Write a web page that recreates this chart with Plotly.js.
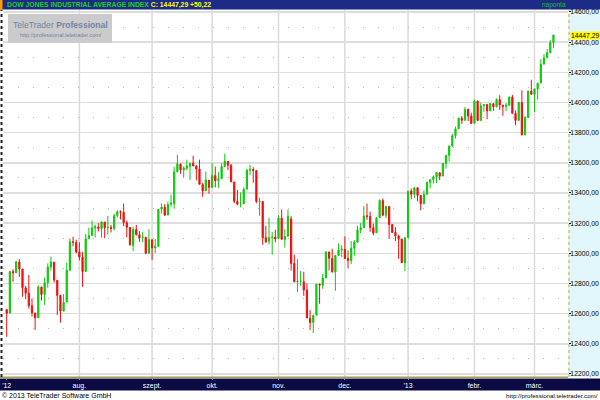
<!DOCTYPE html>
<html><head><meta charset="utf-8">
<script src="https://cdn.plot.ly/plotly-3.0.1.min.js"></script>
<style>html,body{margin:0;padding:0;background:#fff;}#chart{width:600px;height:400px;}</style>
</head><body><div id="chart"></div>
<script>
const dates = [
"2012-06-28","2012-06-29",
"2012-07-02","2012-07-03","2012-07-05","2012-07-06","2012-07-09","2012-07-10","2012-07-11","2012-07-12","2012-07-13","2012-07-16","2012-07-17","2012-07-18","2012-07-19","2012-07-20","2012-07-23","2012-07-24","2012-07-25","2012-07-26","2012-07-27","2012-07-30","2012-07-31",
"2012-08-01","2012-08-02","2012-08-03","2012-08-06","2012-08-07","2012-08-08","2012-08-09","2012-08-10","2012-08-13","2012-08-14","2012-08-15","2012-08-16","2012-08-17","2012-08-20","2012-08-21","2012-08-22","2012-08-23","2012-08-24","2012-08-27","2012-08-28","2012-08-29","2012-08-30","2012-08-31",
"2012-09-04","2012-09-05","2012-09-06","2012-09-07","2012-09-10","2012-09-11","2012-09-12","2012-09-13","2012-09-14","2012-09-17","2012-09-18","2012-09-19","2012-09-20","2012-09-21","2012-09-24","2012-09-25","2012-09-26","2012-09-27","2012-09-28",
"2012-10-01","2012-10-02","2012-10-03","2012-10-04","2012-10-05","2012-10-08","2012-10-09","2012-10-10","2012-10-11","2012-10-12","2012-10-15","2012-10-16","2012-10-17","2012-10-18","2012-10-19","2012-10-22","2012-10-23","2012-10-24","2012-10-25","2012-10-26","2012-10-31",
"2012-11-01","2012-11-02","2012-11-05","2012-11-06","2012-11-07","2012-11-08","2012-11-09","2012-11-12","2012-11-13","2012-11-14","2012-11-15","2012-11-16","2012-11-19","2012-11-20","2012-11-21","2012-11-23","2012-11-26","2012-11-27","2012-11-28","2012-11-29","2012-11-30",
"2012-12-03","2012-12-04","2012-12-05","2012-12-06","2012-12-07","2012-12-10","2012-12-11","2012-12-12","2012-12-13","2012-12-14","2012-12-17","2012-12-18","2012-12-19","2012-12-20","2012-12-21","2012-12-24","2012-12-26","2012-12-27","2012-12-28","2012-12-31",
"2013-01-02","2013-01-03","2013-01-04","2013-01-07","2013-01-08","2013-01-09","2013-01-10","2013-01-11","2013-01-14","2013-01-15","2013-01-16","2013-01-17","2013-01-18","2013-01-22","2013-01-23","2013-01-24","2013-01-25","2013-01-28","2013-01-29","2013-01-30","2013-01-31",
"2013-02-01","2013-02-04","2013-02-05","2013-02-06","2013-02-07","2013-02-08","2013-02-11","2013-02-12","2013-02-13","2013-02-14","2013-02-15","2013-02-19","2013-02-20","2013-02-21","2013-02-22","2013-02-25","2013-02-26","2013-02-27","2013-02-28",
"2013-03-01","2013-03-04","2013-03-05","2013-03-06","2013-03-07","2013-03-08","2013-03-11"
];
const openV = [
12627,12605,
12880,12871,12942,12896,12770,12736,12653,12604,12573,12777,12727,12805,12909,12942,12821,12721,12617,12677,12888,13076,13072,
13009,12975,12879,13096,13118,13167,13175,13164,13207,13170,13172,13165,13250,13275,13272,13203,13172,13053,13158,13123,13103,13107,13002,
13090,13036,13046,13292,13306,13254,13325,13329,13540,13591,13552,13564,13575,13598,13578,13559,13456,13414,13485,
13437,13515,13482,13495,13575,13610,13583,13473,13345,13326,13329,13425,13550,13556,13548,13343,13344,13104,13079,13103,13108,
13099,13233,13092,13113,13228,12933,12811,12815,12811,12757,12570,12542,12590,12796,12787,12837,13009,12966,12876,12985,13022,
13027,12966,12952,13034,13074,13155,13170,13249,13245,13170,13136,13236,13350,13252,13311,13191,13139,13115,13095,12938,
13104,13413,13391,13435,13383,13328,13391,13471,13488,13506,13534,13512,13596,13649,13712,13780,13825,13896,13882,13955,13910,
13862,14010,13880,13979,13987,13944,13992,13971,14019,13982,13973,13981,14036,13927,13881,14000,13784,13900,14075,
14054,14090,14129,14254,14297,14329,14397
];
const highV = [
12630,12880,
12894,12946,12962,12896,12784,12856,12700,12606,12788,12777,12839,12933,12979,12942,12821,12725,12730,12938,13097,13110,13090,
13073,13010,13128,13170,13217,13190,13200,13209,13207,13248,13189,13260,13286,13285,13330,13217,13172,13177,13188,13148,13140,13107,13159,
13091,13095,13293,13331,13326,13342,13390,13573,13653,13596,13576,13621,13598,13647,13586,13621,13467,13542,13486,
13598,13575,13538,13598,13661,13610,13592,13473,13420,13404,13438,13556,13588,13571,13549,13368,13344,13182,13236,13141,13156,
13252,13290,13160,13290,13246,12990,12961,12882,12878,12801,12623,12593,12796,12799,12864,13010,13009,13030,12990,13066,13054,
13112,13019,13082,13087,13184,13200,13313,13330,13276,13197,13239,13358,13364,13312,13311,13191,13173,13123,13095,13104,
13412,13430,13436,13435,13383,13417,13472,13490,13516,13535,13534,13597,13650,13712,13792,13839,13900,13910,13969,13958,13932,
14019,14011,13999,13987,13987,13993,13992,14027,14048,13982,13996,14039,14050,13947,14001,14081,13910,14078,14150,
14090,14128,14287,14320,14354,14413,14448
];
const lowV = [
12446,12600,
12811,12870,12843,12712,12696,12634,12581,12492,12573,12687,12658,12772,12885,12806,12592,12540,12617,12677,12886,13046,13000,
12953,12777,12879,13096,13118,13105,13145,13103,13100,13124,13138,13152,13240,13224,13180,13106,13050,13014,13117,13076,13073,12994,12995,
12956,13001,13046,13264,13247,13254,13309,13296,13540,13527,13503,13550,13486,13579,13483,13456,13375,13414,13395,
13437,13437,13434,13495,13575,13552,13472,13333,13318,13305,13326,13425,13520,13468,13332,13249,13056,13068,13060,12991,13073,
13099,13087,13038,13113,12885,12811,12743,12785,12718,12571,12492,12471,12590,12665,12764,12837,12886,12872,12751,12985,12976,
12963,12902,12928,12985,13074,13133,13170,13222,13143,13119,13136,13236,13250,13233,13095,13135,13081,12964,12937,12883,
13104,13358,13366,13345,13285,13328,13391,13431,13462,13465,13485,13512,13562,13608,13706,13761,13825,13858,13879,13877,13860,
13862,13880,13880,13938,13889,13944,13945,13969,13951,13912,13943,13981,13927,13849,13881,13784,13784,13900,14054,
13937,14020,14129,14254,14297,14329,14361
];
const closeV = [
12602,12880,
12871,12944,12897,12772,12736,12653,12605,12573,12777,12727,12806,12909,12943,12823,12721,12617,12676,12888,13076,13073,13009,
12976,12879,13096,13118,13169,13176,13165,13208,13169,13172,13165,13250,13275,13272,13204,13173,13057,13158,13125,13103,13107,13001,13091,
13036,13047,13292,13307,13254,13323,13333,13540,13593,13553,13565,13578,13597,13579,13559,13458,13414,13486,13437,
13515,13482,13495,13575,13610,13584,13474,13345,13326,13329,13424,13552,13557,13549,13344,13346,13103,13077,13104,13107,13096,
13233,13093,13112,13246,12933,12811,12815,12815,12756,12571,12542,12588,12796,12789,12837,13010,12967,12878,12985,13022,13026,
12966,12952,13034,13074,13155,13170,13248,13245,13171,13135,13235,13351,13252,13312,13191,13139,13115,13096,12938,13104,
13412,13391,13435,13384,13329,13391,13471,13488,13507,13535,13511,13596,13650,13712,13779,13825,13896,13882,13954,13910,13861,
14010,13880,13979,13987,13944,13993,13971,14019,13983,13973,13982,14036,13928,13881,14001,13784,13900,14075,14054,
14090,14128,14254,14296,14329,14397,14447.29
];
const monthTickDates = ["2012-06-28","2012-08-01","2012-09-04","2012-10-01","2012-11-01","2012-12-03","2013-01-02","2013-02-01","2013-03-01"];
const monthTickLabels = ["'12","aug.","szept.","okt.","nov.","dec.","'13","febr.","márc."];
const gridMonthDates = ["2012-08-01","2012-09-04","2012-10-01","2012-11-01","2012-12-03","2013-01-02","2013-02-01","2013-03-01"];
const lastClose = 14447.29;
const lastChange = 50.22;

const FONT = "Liberation Sans, Arial, sans-serif";
const fmt = v => v.toFixed(2).replace('.', ',');

const trace = {
  type: 'candlestick', x: dates, open: openV, high: highV, low: lowV, close: closeV,
  increasing: {line: {color: '#10c810', width: 1}, fillcolor: '#00d400'},
  decreasing: {line: {color: '#f01010', width: 1}, fillcolor: '#ff0000'},
  whiskerwidth: 0, hoverinfo: 'skip', showlegend: false
};

const P = (X) => (X - 3) / 565;
const Q = (Y) => (377 - Y) / 367;

const shapes = [
  {type:'rect', xref:'paper', yref:'paper', x0:P(568), x1:P(600), y0:0, y1:1, fillcolor:'#e2f7fc', line:{width:0}, layer:'below'},
  {type:'rect', xref:'paper', yref:'paper', x0:P(0), x1:P(600), y0:Q(9.5), y1:Q(0), fillcolor:'#1c2b86', line:{width:0}, layer:'below'},
  {type:'rect', xref:'paper', yref:'paper', x0:P(0), x1:P(2.5), y0:Q(9.5), y1:Q(0), fillcolor:'#ff9a00', line:{width:0}},
  {type:'rect', xref:'paper', yref:'paper', x0:P(0), x1:P(600), y0:Q(390.5), y1:Q(378.5), fillcolor:'#0a0a44', line:{width:0}, layer:'below'},
  {type:'line', xref:'paper', yref:'paper', x0:P(0), x1:P(568), y0:Q(377.5), y1:Q(377.5), line:{color:'#a49a62', width:2}},
  {type:'line', xref:'paper', yref:'paper', x0:P(1.5), x1:P(1.5), y0:0, y1:1, line:{color:'#222', width:2, dash:'dot'}},
  {type:'line', xref:'paper', yref:'paper', x0:P(569), x1:P(569), y0:0, y1:1, line:{color:'#c8b020', width:1, dash:'dot'}},
  {type:'rect', xref:'paper', yref:'paper', x0:P(8), x1:P(112), y0:Q(43), y1:Q(14), fillcolor:'#cbcbcb', line:{width:0}, layer:'above'}
];
gridMonthDates.forEach(d => shapes.push({type:'line', xref:'x', yref:'paper', x0:d, x1:d, y0:0, y1:1, line:{color:'#dadada', width:1.5}, layer:'below'}));

const annotations = [
  {xref:'paper', yref:'paper', x:P(5), y:Q(5), xanchor:'left', yanchor:'middle', showarrow:false,
   text:'<span style="color:#20d020">DOW JONES INDUSTRIAL AVERAGE INDEX</span> <span style="color:#ffff00">C: ' + fmt(lastClose) + ' +' + fmt(lastChange) + '</span>',
   font:{family:FONT, size:6.8, weight:700}},
  {xref:'paper', yref:'paper', x:P(554), y:Q(5), xanchor:'center', yanchor:'middle', showarrow:false,
   text:'naponta', font:{family:FONT, size:6.5, color:'#20c020'}},
  {xref:'paper', yref:'paper', x:P(60), y:Q(25), xanchor:'center', yanchor:'middle', showarrow:false,
   text:'TeleTrader <b>Professional</b>', font:{family:FONT, size:8.6, color:'#7284a8'}},
  {xref:'paper', yref:'paper', x:P(104), y:Q(34.5), xanchor:'right', yanchor:'middle', showarrow:false,
   text:'http://professional.teletrader.com/', font:{family:FONT, size:5.5, color:'#7284a8'}},
  {xref:'paper', yref:'y', x:P(569.5), y:lastClose, xanchor:'left', yanchor:'middle', showarrow:false,
   text:fmt(lastClose), bgcolor:'#ffff00', borderpad:0, font:{family:FONT, size:6.8, color:'#000'}},
  {xref:'paper', yref:'paper', x:P(0), y:Q(395), xanchor:'left', yanchor:'middle', showarrow:false,
   text:'© 2013 TeleTrader Software GmbH', font:{family:FONT, size:7, color:'#000'}},
  {xref:'paper', yref:'paper', x:P(600), y:Q(395), xanchor:'right', yanchor:'middle', showarrow:false,
   text:'http://professional.teletrader.com/', font:{family:FONT, size:6.2, color:'#000'}}
];

const layout = {
  width: 600, height: 400,
  margin: {l: 3, r: 32, t: 10, b: 23, pad: 0},
  paper_bgcolor: '#ffffff', plot_bgcolor: '#ffffff',
  font: {family: FONT, size: 7, color: '#000'},
  separators: ', ',
  showlegend: false,
  xaxis: {
    type: 'category', range: [-1.17, 177.6], rangeslider: {visible: false},
    tickmode: 'array', tickvals: monthTickDates, ticktext: monthTickLabels,
    showgrid: false, zeroline: false, showline: false,
    ticks: 'outside', ticklen: 2, tickcolor: '#8888aa',
    tickfont: {family: FONT, size: 7, color: '#ffffff'}, fixedrange: true
  },
  yaxis: {
    side: 'right', range: [12180, 14613], tickmode: 'linear', tick0: 12200, dtick: 200,
    tickformat: '.2f', showgrid: true, gridcolor: '#dedede', gridwidth: 1.5,
    minor: {dtick: 100, tick0: 12200, showgrid: true, gridcolor: '#b8b8b8', griddash: '1px,14px', gridwidth: 1},
    zeroline: false, showline: false, ticks: 'outside', ticklen: 2, tickcolor: '#000',
    ticklabelstandoff: -2,
    tickfont: {family: FONT, size: 6.8, color: '#000'}, fixedrange: true
  },
  boxgap: 0.45,
  shapes: shapes,
  annotations: annotations
};

Plotly.newPlot('chart', [trace], layout, {displayModeBar: false, staticPlot: true});
</script></body></html>
